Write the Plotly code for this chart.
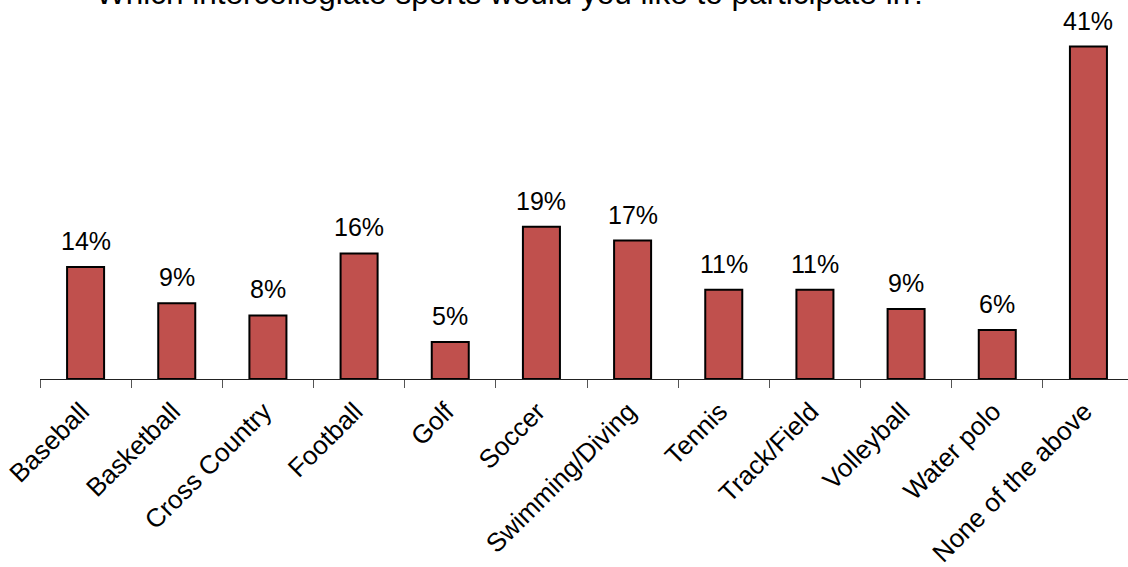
import plotly.graph_objects as go

categories = ["Baseball", "Basketball", "Cross Country", "Football", "Golf", "Soccer",
              "Swimming/Diving", "Tennis", "Track/Field", "Volleyball", "Water polo",
              "None of the above"]
values = [13.9, 9.4, 7.9, 15.6, 4.6, 18.9, 17.2, 11.1, 11.1, 8.7, 6.1, 41.3]
labels = ["14%", "9%", "8%", "16%", "5%", "19%", "17%", "11%", "11%", "9%", "6%", "41%"]
title_text = "Which intercollegiate sports would you like to participate in?"

FONT = "Liberation Sans, Arial, Helvetica, sans-serif"

fig = go.Figure()
fig.add_trace(go.Bar(
    x=categories, y=values,
    marker=dict(color="#C0504D", line=dict(color="#000000", width=2)),
    hoverinfo="skip",
))

annotations = []
for c, v, t in zip(categories, values, labels):
    annotations.append(dict(
        x=c, y=v, xref="x", yref="y", text=t, showarrow=False,
        yanchor="bottom", yshift=10,
        font=dict(family=FONT, size=25, color="#000000"),
    ))
annotations.append(dict(
    x=0.434, y=1.018, xref="paper", yref="paper", text=title_text, showarrow=False,
    xanchor="center", yanchor="middle",
    font=dict(family=FONT, size=31.5, color="#000000"),
))

fig.update_layout(
    width=1128, height=567,
    margin=dict(l=40, r=0, t=0, b=188, pad=0),
    paper_bgcolor="white", plot_bgcolor="white",
    bargap=0.594,
    showlegend=False,
    annotations=annotations,
    font=dict(family=FONT, color="#000000"),
    xaxis=dict(
        type="category",
        range=[-0.5, 11.434],
        showline=True, linecolor="#222222", linewidth=1,
        ticks="outside", tickson="boundaries", ticklen=8, tickcolor="#555555", tickwidth=1,
        tickangle=-45,
        ticklabelstandoff=6, ticklabelshift=-4,
        tickfont=dict(family=FONT, size=26, color="#000000"),
        showgrid=False, zeroline=False,
    ),
    yaxis=dict(
        range=[0, 47.08],
        visible=False, showgrid=False, zeroline=False,
    ),
)

fig.write_html(
    "out.html",
    config={"displayModeBar": False},
    post_script="document.body.style.margin='0';document.body.style.overflow='hidden';",
)
